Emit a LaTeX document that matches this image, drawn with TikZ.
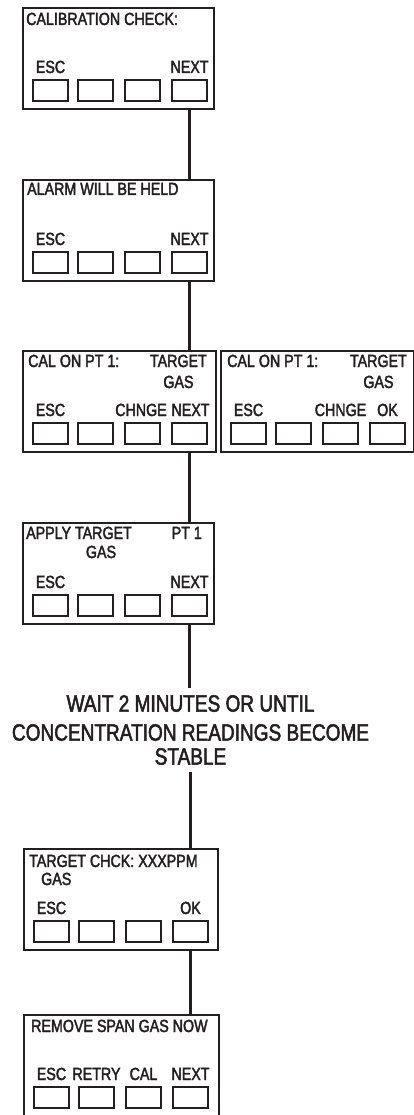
\documentclass[tikz,border=0pt]{standalone}
\usepackage{fontspec}
\setmainfont{Liberation Sans}[FakeStretch=0.81,FakeBold=2.2]
\definecolor{ink}{RGB}{35,31,32}
\newcommand\myscreen[4]{% name, x, y, width
  \node[screen, minimum width=#4pt] (#1) at (#2,#3) {};
  \foreach \i/\dx in {1/10,2/55,3/102,4/149}
    \node[key] (#1k\i) at ([xshift=\dx pt,yshift=-72pt]#1.north west) {};
}
\begin{document}
\begin{tikzpicture}[x=1pt,y=-1pt,
  screen/.style={draw=ink, line width=2.4pt, inner sep=0pt, anchor=north west, minimum height=101pt},
  key/.style={draw=ink, line width=2pt, inner sep=0pt, anchor=north west, minimum width=35pt, minimum height=21pt},
  txt/.style={text=ink, font=\fontsize{17.6}{19}\selectfont, inner sep=0pt},
  lab/.style={txt, anchor=base},
  head/.style={txt, anchor=base west},
  big/.style={text=ink, font=\fontsize{23.5}{27}\selectfont, align=center, inner sep=7pt, anchor=north},
  conn/.style={draw=ink, line width=2.2pt}]
\useasboundingbox (0,0) rectangle (414,1115);

% screen 1
\myscreen{b1}{22}{7}{191}
\node[head] (b1h) at ([xshift=4pt,yshift=-18pt]b1.north west) {CALIBRATION CHECK:};
\node[lab] (b1l1) at ([yshift=6pt]b1k1.north) {ESC};
\node[lab] (b1l4) at ([yshift=6pt]b1k4.north) {NEXT};

% screen 2
\myscreen{b2}{22}{179}{191}
\node[head] (b2h) at ([xshift=5pt,yshift=-16pt]b2.north west) {ALARM WILL BE HELD};
\node[lab] (b2l1) at ([yshift=6pt]b2k1.north) {ESC};
\node[lab] (b2l4) at ([yshift=6pt]b2k4.north) {NEXT};

% screen 3 left
\myscreen{b3}{22}{350}{193}
\node[head] (b3h) at ([xshift=6pt,yshift=-17pt]b3.north west) {CAL ON PT 1:};
\node[txt, anchor=base east] (b3t) at (207,367) {TARGET};
\node[lab] (b3g) at ([yshift=-21pt]b3t.base) {GAS};
\node[lab] (b3l1) at ([yshift=6pt]b3k1.north) {ESC};
\node[lab] (b3l3) at ([yshift=6pt,xshift=-1.5pt]b3k3.north) {CHNGE};
\node[lab] (b3l4) at ([yshift=6pt,xshift=1pt]b3k4.north) {NEXT};

% screen 3 right
\myscreen{r3}{220}{350}{193}
\node[head] (r3h) at ([xshift=7pt,yshift=-17pt]r3.north west) {CAL ON PT 1:};
\node[txt, anchor=base east] (r3t) at (407,367) {TARGET};
\node[lab] (r3g) at ([yshift=-21pt]r3t.base) {GAS};
\node[lab] (r3l1) at ([yshift=6pt]r3k1.north) {ESC};
\node[lab] (r3l3) at ([yshift=6pt]r3k3.north) {CHNGE};
\node[lab] (r3l4) at ([yshift=6pt]r3k4.north) {OK};

% screen 4
\myscreen{b4}{22}{522}{191}
\node[head] (b4h) at ([xshift=4pt,yshift=-17pt]b4.north west) {APPLY TARGET};
\node[txt, anchor=base east] (b4p) at (202,539) {PT 1};
\node[lab] (b4g) at (101,558) {GAS};
\node[lab] (b4l1) at ([yshift=6pt]b4k1.north) {ESC};
\node[lab] (b4l4) at ([yshift=6pt]b4k4.north) {NEXT};

% wait text
\node[big] (wait) at (190.5,688) {WAIT 2 MINUTES OR UNTIL\\[2pt]CONCENTRATION READINGS BECOME\\[-3pt]STABLE};

% screen 5
\myscreen{b5}{23}{848}{194}
\node[head] (b5h) at ([xshift=6pt,yshift=-19pt]b5.north west) {TARGET CHCK: XXXPPM};
\node[txt, anchor=base west] (b5g) at (41,885) {GAS};
\node[lab] (b5l1) at ([yshift=6pt]b5k1.north) {ESC};
\node[lab] (b5l4) at ([yshift=6pt]b5k4.north) {OK};

% screen 6
\myscreen{b6}{23}{1014}{195}
\node[head] (b6h) at ([xshift=8pt,yshift=-18pt]b6.north west) {REMOVE SPAN GAS NOW};
\node[lab] (b6l1) at ([yshift=6pt]b6k1.north) {ESC};
\node[lab] (b6l2) at ([yshift=6pt]b6k2.north) {RETRY};
\node[lab] (b6l3) at ([yshift=6pt]b6k3.north) {CAL};
\node[lab] (b6l4) at ([yshift=6pt]b6k4.north) {NEXT};

% connectors
\draw[conn] (b1.south -| b1k4) -- (b2.north -| b1k4);
\draw[conn] (b2.south -| b2k4) -- (b3.north -| b2k4);
\draw[conn] (b3.south -| b3k4) -- (b4.north -| b3k4);
\draw[conn] (b4.south -| b4k4) -- (wait.north -| b4k4);
\draw[conn] (wait.south -| b5k4) -- (b5.north -| b5k4);
\draw[conn] (b5.south -| b5k4) -- (b6.north -| b5k4);
\end{tikzpicture}
\end{document}
